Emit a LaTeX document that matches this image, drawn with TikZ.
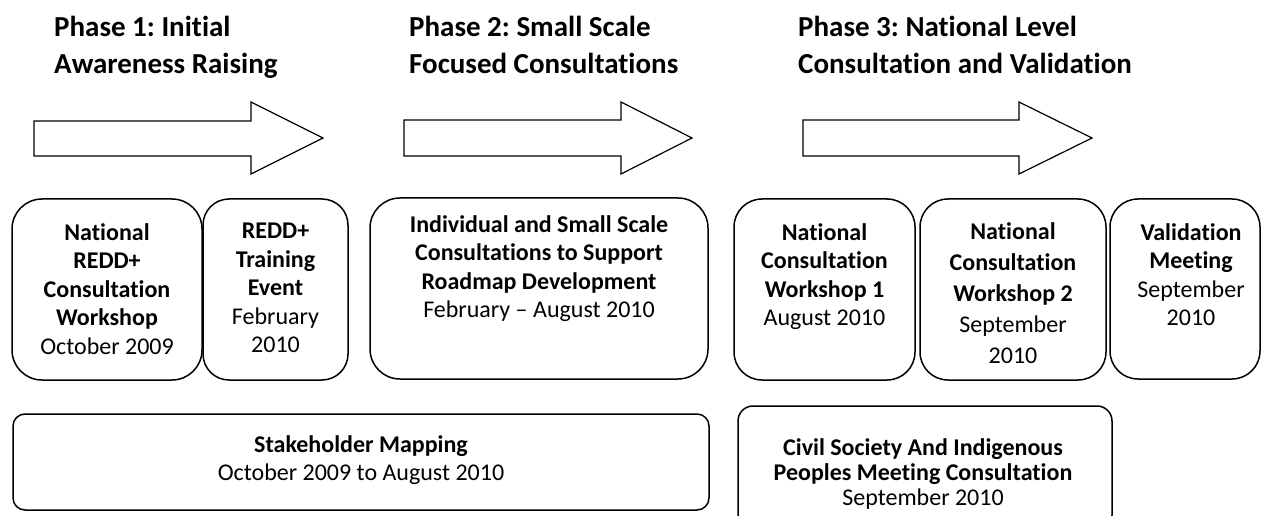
\documentclass[tikz,border=0pt]{standalone}
\usepackage{fontspec}
\setmainfont{Carlito}[Ligatures={NoCommon,TeX}]
\begin{document}
\frenchspacing
\begin{tikzpicture}[x=1pt,y=-1pt,
  box/.style={draw=black, line width=1.5pt, rounded corners=#1, inner sep=0pt},
  box/.default=28pt,
  boxtext/.style={anchor=north, align=center, inner sep=0pt,
    font=\fontsize{24}{28.5}\selectfont},
  phasetitle/.style={anchor=base west, inner sep=0pt,
    font=\bfseries\fontsize{29}{37}\selectfont},
  phasearrow/.style={draw=black, line width=1.2pt, fill=white, line join=miter}
]
\clip (0,0) rectangle (1262,516);
\fill[white] (0,0) rectangle (1262,516);

% phase titles
\node[phasetitle] (p1a) at (54,37) {Phase 1: Initial};
\node[phasetitle] (p1b) at (54,74) {Awareness Raising};
\node[phasetitle] (p2a) at (409,37) {Phase 2: Small Scale};
\node[phasetitle] (p2b) at (409,74) {Focused Consultations};
\node[phasetitle] (p3a) at (798,37) {Phase 3: National Level};
\node[phasetitle] (p3b) at (798,74) {Consultation and Validation};

% phase arrows
\draw[phasearrow] (34,121) -- (251,121) -- (251,102) -- (323,138) -- (251,174) -- (251,156) -- (34,156) -- cycle;
\draw[phasearrow] (404,120) -- (621,120) -- (621,102) -- (692,138) -- (621,174) -- (621,156) -- (404,156) -- cycle;
\draw[phasearrow] (803,120) -- (1019,120) -- (1019,102) -- (1092,138) -- (1019,174) -- (1019,156) -- (803,156) -- cycle;

% top row boxes
\node[box=30pt, minimum width=190pt, minimum height=181pt] (b1) at (107,289.5) {};
\node[box=26pt, minimum width=145pt, minimum height=181pt] (b2) at (275.5,289.5) {};
\node[box=30pt, minimum width=338pt, minimum height=181pt] (b3) at (539,288.5) {};
\node[box=28pt, minimum width=181pt, minimum height=181pt] (b4) at (824.5,289.5) {};
\node[box=28pt, minimum width=186pt, minimum height=181pt] (b5) at (1013,289.5) {};
\node[box=28pt, minimum width=150pt, minimum height=180pt] (b6) at (1185,289) {};

\node[boxtext] (t1) at (107,223) {\textbf{National}\\\textbf{REDD+}\\\textbf{Consultation}\\\textbf{Workshop}\\October 2009};
\node[boxtext] (t2) at (275.5,223) {\textbf{REDD+}\\\textbf{Training}\\\textbf{Event}\\February\\2010};
\node[boxtext] (t3) at (539,215) {\textbf{Individual and Small Scale}\\\textbf{Consultations to Support}\\\textbf{Roadmap Development}\\February – August 2010};
\node[boxtext] (t4) at (824.5,223) {\textbf{National}\\\textbf{Consultation}\\\textbf{Workshop 1}\\August 2010};
\node[boxtext, font=\fontsize{24}{31}\selectfont] (t5) at (1013,222) {\textbf{National}\\\textbf{Consultation}\\\textbf{Workshop 2}\\September\\2010};
\node[boxtext] (t6) at (1191,223) {\textbf{Validation}\\\textbf{Meeting}\\September\\2010};

% bottom row boxes
\node[box=12pt, minimum width=696pt, minimum height=96pt] (s1) at (361,462) {};
\node[box=15pt, minimum width=374pt, minimum height=124pt] (s2) at (925,468) {};

\node[boxtext, font=\fontsize{24}{28}\selectfont] (ts1) at (361,435.4) {\textbf{Stakeholder Mapping}\\October 2009 to August 2010};
\node[boxtext, font=\fontsize{24}{25}\selectfont] (ts2) at (923,438.5) {\textbf{Civil Society And Indigenous}\\\textbf{Peoples Meeting Consultation}\\September 2010};
\end{tikzpicture}
\end{document}
